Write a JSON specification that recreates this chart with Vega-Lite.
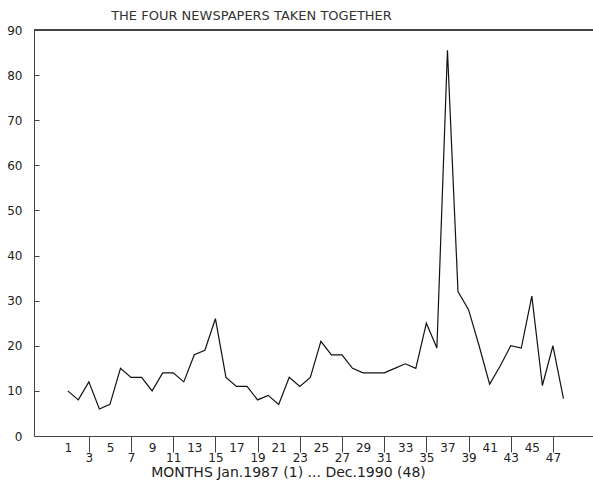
{
  "$schema": "https://vega.github.io/schema/vega-lite/v6.json",
  "width": 559,
  "height": 406,
  "autosize": {"type": "none"},
  "padding": {"left": 34, "top": 30, "right": 0, "bottom": 47},
  "background": "white",
  "config": {
    "view": {"stroke": null},
    "font": "DejaVu Sans",
    "axis": {"grid": false, "labelFont": "DejaVu Sans", "titleFont": "DejaVu Sans", "labelColor": "#222", "titleColor": "#222", "domainColor": "#444", "tickColor": "#444"}
  },
  "title": {
    "text": "THE FOUR NEWSPAPERS TAKEN TOGETHER",
    "fontSize": 13,
    "fontWeight": "normal",
    "color": "#333",
    "anchor": "middle",
    "dx": -62,
    "baseline": "alphabetic",
    "offset": -9
  },
  "data": {
    "values": [
      {"month": 1, "count": 10}, {"month": 2, "count": 8}, {"month": 3, "count": 12}, {"month": 4, "count": 6},
      {"month": 5, "count": 7}, {"month": 6, "count": 15}, {"month": 7, "count": 13}, {"month": 8, "count": 13},
      {"month": 9, "count": 10}, {"month": 10, "count": 14}, {"month": 11, "count": 14}, {"month": 12, "count": 12},
      {"month": 13, "count": 18}, {"month": 14, "count": 19}, {"month": 15, "count": 26}, {"month": 16, "count": 13},
      {"month": 17, "count": 11}, {"month": 18, "count": 11}, {"month": 19, "count": 8}, {"month": 20, "count": 9},
      {"month": 21, "count": 7}, {"month": 22, "count": 13}, {"month": 23, "count": 11}, {"month": 24, "count": 13},
      {"month": 25, "count": 21}, {"month": 26, "count": 18}, {"month": 27, "count": 18}, {"month": 28, "count": 15},
      {"month": 29, "count": 14}, {"month": 30, "count": 14}, {"month": 31, "count": 14}, {"month": 32, "count": 15},
      {"month": 33, "count": 16}, {"month": 34, "count": 15}, {"month": 35, "count": 25}, {"month": 36, "count": 19.5},
      {"month": 37, "count": 85.5}, {"month": 38, "count": 32}, {"month": 39, "count": 28}, {"month": 40, "count": 20},
      {"month": 41, "count": 11.5}, {"month": 42, "count": 15.5}, {"month": 43, "count": 20}, {"month": 44, "count": 19.5},
      {"month": 45, "count": 31}, {"month": 46, "count": 11.2}, {"month": 47, "count": 20}, {"month": 48, "count": 8.3}
    ]
  },
  "layer": [
    {
      "mark": {"type": "line", "color": "#111", "strokeWidth": 1.2},
      "encoding": {
        "x": {
          "field": "month",
          "type": "quantitative",
          "scale": {"domain": [-2.2, 50.8], "nice": false, "zero": false},
          "axis": {
            "values": [1,3,5,7,9,11,13,15,17,19,21,23,25,27,29,31,33,35,37,39,41,43,45,47],
            "labelOverlap": false,
            "labelFlush": false,
            "labelFontSize": 12,
            "tickSize": 16,
            "tickOpacity": {"condition": {"test": "datum.value % 4 == 3", "value": 1}, "value": 0},
            "labelPadding": {"condition": {"test": "datum.value % 4 == 3", "value": 0}, "value": -10},
            "labelBaseline": "top",
            "title": "MONTHS Jan.1987 (1) ... Dec.1990 (48)",
            "titleFontSize": 14,
            "titleFontWeight": "normal",
            "titleX": 254,
            "titleY": 36,
            "titleAlign": "center",
            "titleBaseline": "middle"
          }
        },
        "y": {
          "field": "count",
          "type": "quantitative",
          "scale": {"domain": [0, 90], "nice": false},
          "axis": {
            "values": [0,10,20,30,40,50,60,70,80,90],
            "labelFlush": false,
            "labelFontSize": 12,
            "tickSize": -5,
            "labelPadding": 17,
            "title": null
          }
        }
      }
    },
    {
      "mark": {"type": "rule", "color": "#444", "strokeWidth": 1},
      "encoding": {"y": {"datum": 90}}
    }
  ]
}
